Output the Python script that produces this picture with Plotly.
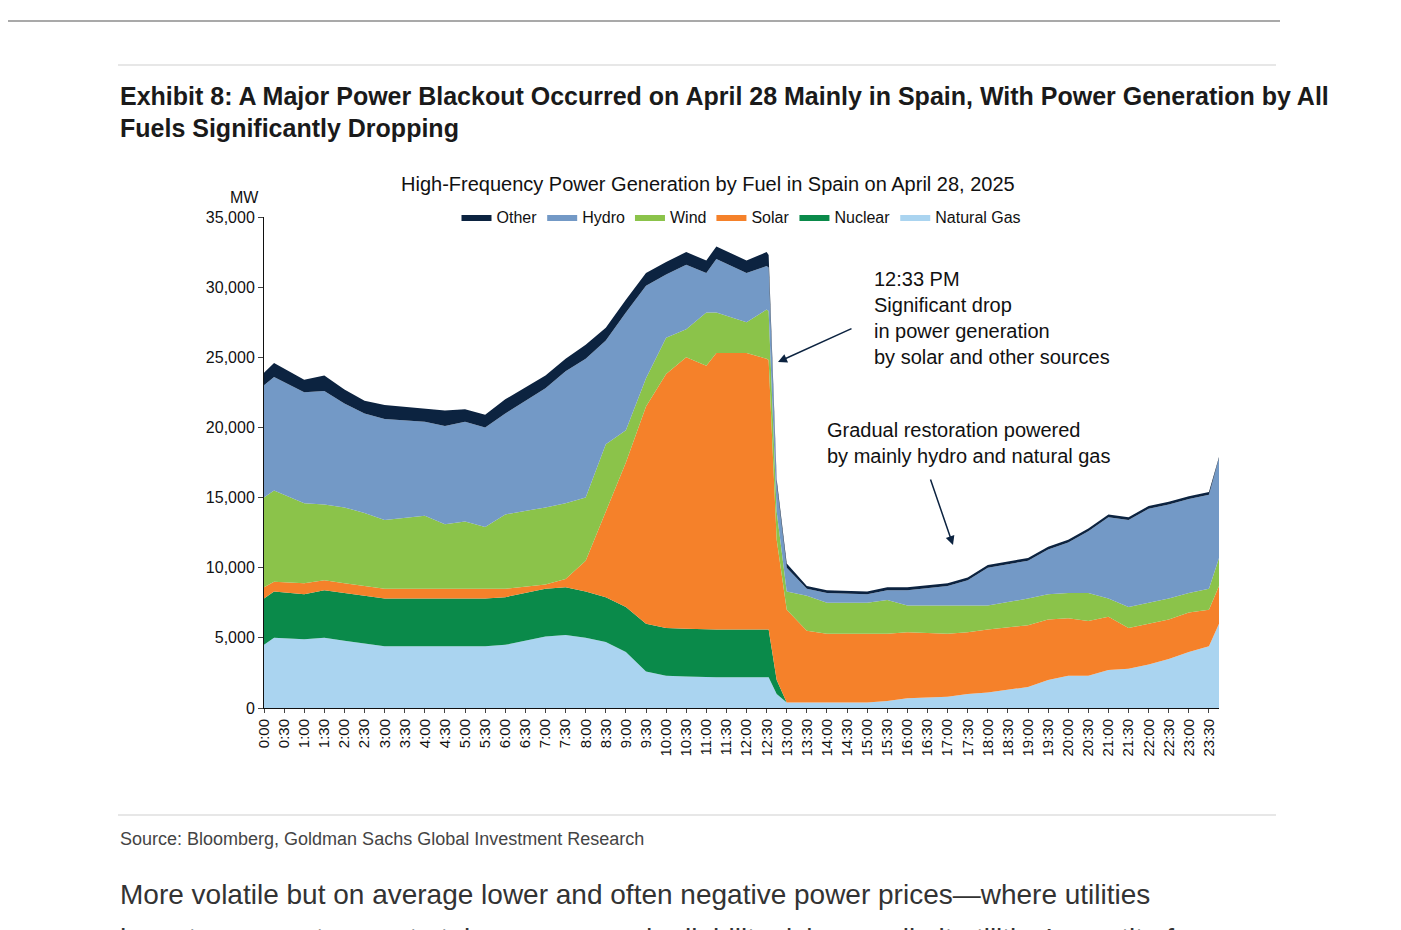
import plotly.graph_objects as go

# time in hours
hours = [0, 0.25, 1, 1.5, 2, 2.5, 3, 4, 4.5, 5, 5.5, 6, 7, 7.5, 8, 8.5, 9, 9.5, 10, 10.5,
         11, 11.25, 12, 12.5, 12.55, 12.75, 13, 13.5, 14, 15, 15.5, 16, 17, 17.5, 18, 19,
         19.5, 20, 20.5, 21, 21.5, 22, 22.5, 23, 23.5, 23.75]

# stacked tops (MW)
gas_top = [4500, 5000, 4900, 5000, 4800, 4600, 4400, 4400, 4400, 4400, 4400, 4500, 5100, 5200, 5000, 4700,
           4000, 2600, 2300, 2250, 2200, 2200, 2200, 2200, 2200, 1000, 400, 400, 400, 400, 500, 700,
           800, 1000, 1100, 1500, 2000, 2300, 2300, 2700, 2800, 3100, 3500, 4000, 4400, 6000]
nuclear_top = [7800, 8300, 8100, 8400, 8200, 8000, 7800, 7800, 7800, 7800, 7800, 7900, 8500, 8600, 8300, 7900,
               7200, 6000, 5700, 5650, 5600, 5600, 5600, 5600, 5600, 2000, 400, 400, 400, 400, 500, 700,
               800, 1000, 1100, 1500, 2000, 2300, 2300, 2700, 2800, 3100, 3500, 4000, 4400, 6000]
solar_top = [8600, 9000, 8900, 9100, 8900, 8700, 8500, 8500, 8500, 8500, 8500, 8500, 8800, 9200, 10500, 14000,
             17500, 21500, 23800, 25000, 24400, 25300, 25300, 24900, 24800, 12000, 7000, 5500, 5300, 5300, 5300, 5400,
             5300, 5400, 5600, 5900, 6300, 6400, 6200, 6500, 5700, 6000, 6300, 6800, 7000, 8700]
wind_top = [15000, 15500, 14600, 14500, 14300, 13900, 13400, 13700, 13100, 13300, 12900, 13800, 14300, 14600, 15000, 18800,
            19800, 23500, 26400, 27000, 28200, 28200, 27500, 28400, 28300, 14000, 8300, 8000, 7500, 7500, 7700, 7300,
            7300, 7300, 7300, 7800, 8100, 8200, 8200, 7800, 7200, 7500, 7800, 8200, 8500, 10700]
hydro_top = [23000, 23600, 22500, 22600, 21700, 21000, 20600, 20400, 20100, 20400, 20000, 21000, 22800, 24000, 24900, 26200,
             28200, 30100, 30900, 31600, 31000, 32000, 31000, 31500, 31400, 16000, 10000, 8500, 8200, 8100, 8400, 8400,
             8700, 9100, 10000, 10500, 11300, 11800, 12600, 13600, 13400, 14200, 14500, 14900, 15200, 17800]
other_top = [23900, 24600, 23400, 23700, 22700, 21900, 21600, 21300, 21200, 21300, 20900, 22000, 23700, 24900, 25900, 27100,
             29100, 31000, 31800, 32500, 31900, 32900, 31900, 32500, 32300, 16300, 10300, 8700, 8400, 8300, 8600, 8600,
             8900, 9300, 10200, 10700, 11500, 12000, 12800, 13800, 13600, 14400, 14700, 15100, 15400, 17900]

names = ["Natural Gas", "Nuclear", "Solar", "Wind", "Hydro", "Other"]
colors = ["#aad4f0", "#0a8a4a", "#f5812a", "#8bc34a", "#7399c6", "#0c2340"]
tick_vals = [h / 2 for h in range(48)]
tick_text = [f"{h // 2}:{'30' if h % 2 else '00'}" for h in range(48)]

FONT = "Liberation Sans, Arial, sans-serif"
fig = go.Figure()
for i, (nm, ys) in enumerate(zip(names, [gas_top, nuclear_top, solar_top, wind_top, hydro_top, other_top])):
    fig.add_trace(go.Scatter(x=hours, y=ys, name=nm, mode="lines", line=dict(width=0, color=colors[i]),
                             fill="tozeroy" if i == 0 else "tonexty", fillcolor=colors[i]))

W, H = 1401, 930
L, R, T, B = 256, 1211, 209, 700


def px(x):
    return (x - L) / (R - L)


def py(y):
    return (B - y) / (B - T)


shapes = [
    dict(type="line", xref="paper", yref="paper", x0=px(0), x1=px(1272), y0=py(13), y1=py(13),
         line=dict(color="#8c8c8c", width=1.5)),
    dict(type="line", xref="paper", yref="paper", x0=px(110), x1=px(1268), y0=py(57), y1=py(57),
         line=dict(color="#cfcfcf", width=1)),
    dict(type="line", xref="paper", yref="paper", x0=px(110), x1=px(1268), y0=py(807), y1=py(807),
         line=dict(color="#cfcfcf", width=1)),
]

ann = [
    dict(x=px(110), y=py(88), text="<b>Exhibit 8: A Major Power Blackout Occurred on April 28 Mainly in Spain, With Power Generation by All</b>",
         xanchor="left", font=dict(family="Liberation Sans Narrow, Liberation Sans", size=25, color="#1a1a1a")),
    dict(x=px(110), y=py(120), text="<b>Fuels Significantly Dropping</b>",
         xanchor="left", font=dict(family="Liberation Sans Narrow, Liberation Sans", size=25, color="#1a1a1a")),
    dict(x=px(700), y=py(176), text="High-Frequency Power Generation by Fuel in Spain on April 28, 2025",
         font=dict(size=20, color="#111")),
    dict(x=px(220), y=py(189), text="MW", font=dict(size=16, color="#111")),
    dict(x=px(864), y=py(310), text="12:33 PM<br>Significant drop<br>in power generation<br>by solar and other sources",
         xanchor="left", align="left", font=dict(size=20, color="#111")),
    dict(x=px(817), y=py(435), text="Gradual restoration powered<br>by mainly hydro and natural gas",
         xanchor="left", align="left", font=dict(size=20, color="#111")),
    dict(x=px(110), y=py(831), text="Source: Bloomberg, Goldman Sachs Global Investment Research",
         xanchor="left", font=dict(family="Liberation Sans Narrow, Liberation Sans", size=18, color="#444")),
    dict(x=px(110), y=py(886), text="More volatile but on average lower and often negative power prices\u2014where utilities",
         xanchor="left", font=dict(size=28, color="#333")),
    dict(x=px(110), y=py(930), text="have to pay customers to take power\u2014and reliability risks may limit utilities\u2019 appetite for",
         xanchor="left", font=dict(size=28, color="#333")),
    dict(x=px(770), y=py(354), ax=75, ay=-34, text="",
         showarrow=True, arrowhead=2, arrowsize=1.2, arrowwidth=1.5, arrowcolor="#0c2340"),
    dict(x=px(945), y=py(537), ax=-23, ay=-67, text="",
         showarrow=True, arrowhead=2, arrowsize=1.2, arrowwidth=1.5, arrowcolor="#0c2340"),
]
for a in ann:
    a.setdefault("xref", "paper")
    a.setdefault("yref", "paper")
    a.setdefault("showarrow", False)
    a.setdefault("yanchor", "middle")

fig.update_layout(
    width=W, height=H, margin=dict(l=L, r=W - R, t=T, b=H - B),
    plot_bgcolor="white", paper_bgcolor="white",
    font=dict(family=FONT, color="#111", size=16),
    shapes=shapes, annotations=ann,
    legend=dict(orientation="h", x=0.5, xanchor="center", y=1.0, yanchor="middle",
                font=dict(size=16), itemwidth=30, bgcolor="rgba(0,0,0,0)"),
    xaxis=dict(range=[0, 23.75], tickvals=tick_vals, ticktext=tick_text, tickangle=-90,
               showline=True, linecolor="#111", ticks="outside", ticklen=4, showgrid=False,
               tickfont=dict(size=15), zeroline=False),
    yaxis=dict(range=[0, 35000], dtick=5000, tickformat=",", showline=True, linecolor="#111",
               ticks="outside", ticklen=5, showgrid=False, tickfont=dict(size=16), zeroline=False),
)

fig.write_html("out.html")
